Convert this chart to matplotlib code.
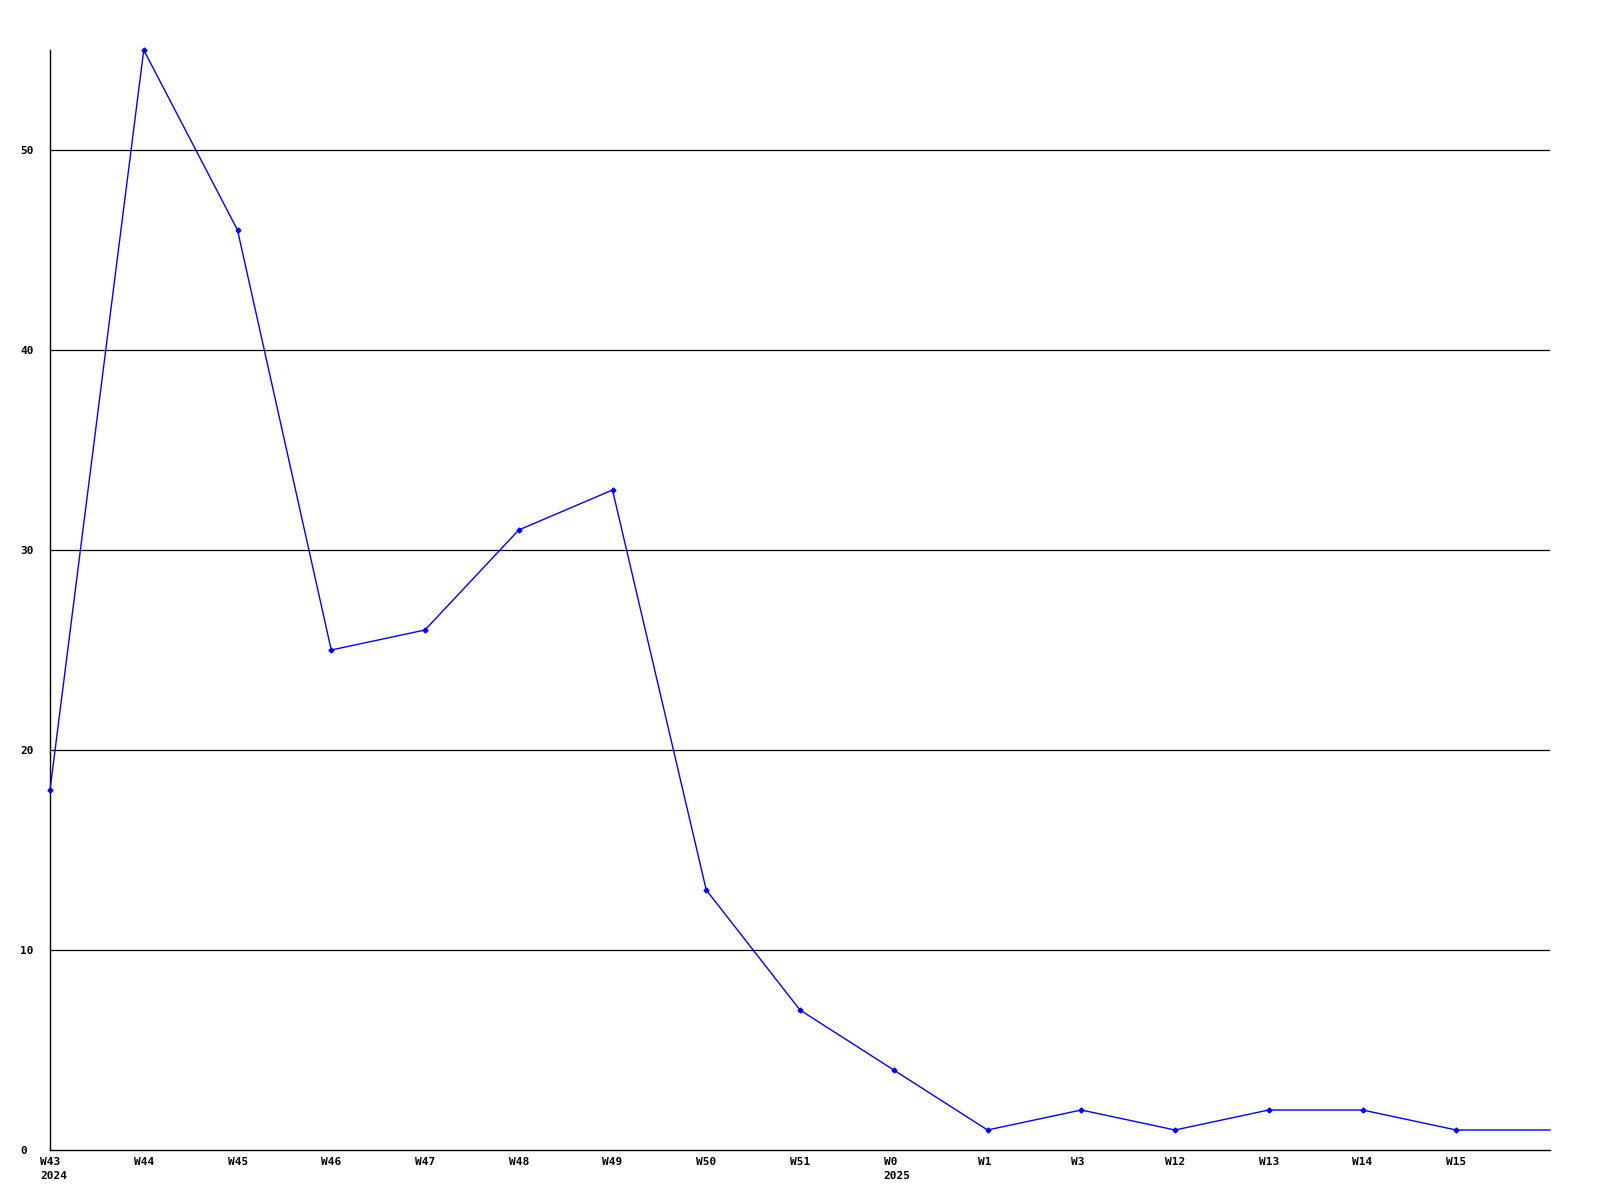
import matplotlib
matplotlib.use("Agg")
import matplotlib.pyplot as plt
import matplotlib.transforms as mtransforms
import numpy as np

# weekly counts, last point has no label
week_labels = ["W43\n2024", "W44", "W45", "W46", "W47", "W48", "W49", "W50",
               "W51", "W0\n2025", "W1", "W3", "W12", "W13", "W14", "W15", ""]
counts = [18, 55, 46, 25, 26, 31, 33, 13, 7, 4, 1, 2, 1, 2, 2, 1, 1]
y_ticks = [0, 10, 20, 30, 40, 50]

plt.rcParams['font.family'] = ['DejaVu Sans Mono']

fig = plt.figure(figsize=(16, 12), dpi=100)
ax = fig.add_axes([50/1600, 50/1200, 1500/1600, 1100/1200])

x = np.arange(len(counts))
# no marker on the last (open) week
ax.plot(x, counts, color='#0000ff', lw=1, marker='D', ms=2.5,
        markevery=list(range(len(counts) - 1)), clip_on=False, zorder=3)

ax.set_xlim(0, len(counts) - 1)
ax.set_ylim(0, 55)

for v in y_ticks[1:]:
    ax.axhline(v, color='black', lw=0.9, zorder=1)

for s in ['top', 'right']:
    ax.spines[s].set_visible(False)
for s in ['left', 'bottom']:
    ax.spines[s].set_color('black')
    ax.spines[s].set_linewidth(1)

ax.set_xticks(x)
ax.set_xticklabels(week_labels, fontsize=8, fontweight='bold', ha='left', linespacing=1.55)
ax.set_yticks(y_ticks)
ax.set_yticklabels([str(v) for v in y_ticks], fontsize=8, fontweight='bold', ha='left')
ax.tick_params(axis='x', length=0, pad=5)
ax.tick_params(axis='y', length=0, pad=21.6)

offset = mtransforms.ScaledTranslation(-10/100, 0, fig.dpi_scale_trans)
for lab in ax.get_xticklabels():
    lab.set_transform(lab.get_transform() + offset)

fig.savefig("out.png", dpi=100)
